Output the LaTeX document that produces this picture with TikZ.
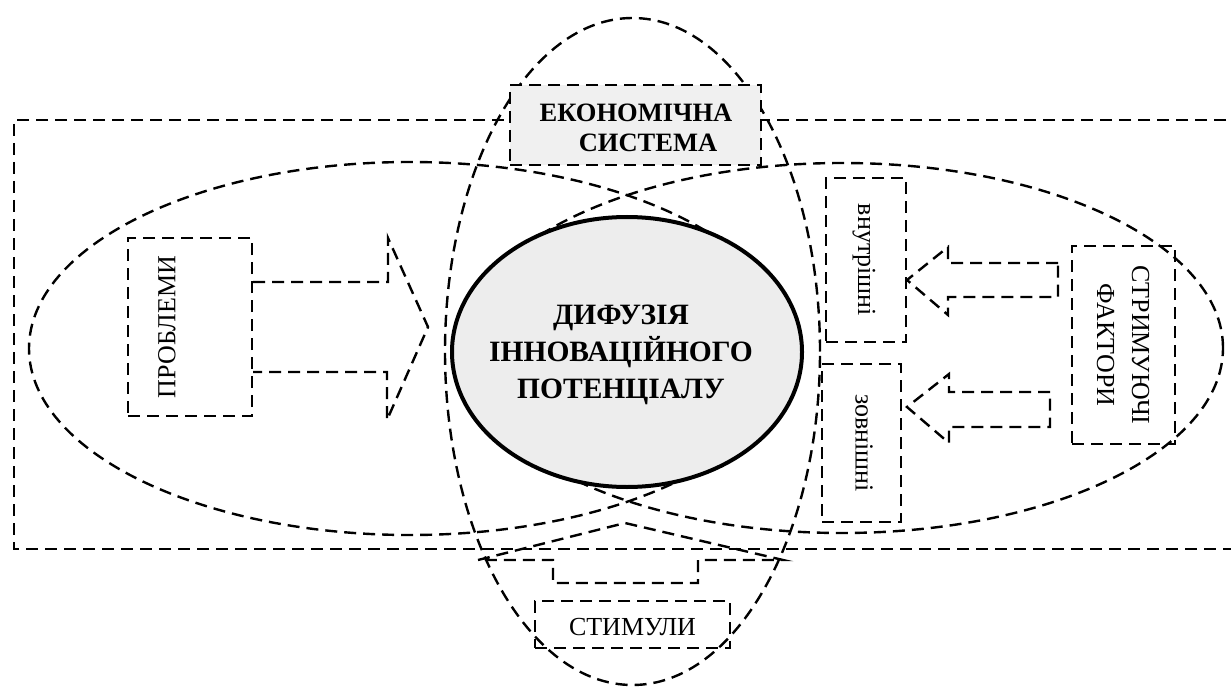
\documentclass[tikz,border=0pt]{standalone}
\usepackage{fontspec}
\setmainfont{Liberation Serif}
\usetikzlibrary{shapes.geometric}
\tikzset{
  dsh/.style={draw=black, line width=2.4pt, dash pattern=on 12pt off 7pt},
  boxd/.style={dsh, rectangle, inner sep=0pt},
  txt/.style={font=\fontsize{26}{30}\selectfont, inner sep=0pt, align=center},
  btxt/.style={font=\fontsize{26.5}{30}\selectfont\bfseries, inner sep=0pt, align=center},
}
\begin{document}
\begin{tikzpicture}[x=1pt,y=-1pt]
\useasboundingbox (0,0) rectangle (1231,687);
% outer rectangle
\draw[dsh] (1245,120) -- (14,120) -- (14,549) -- (1245,549);
% big ellipses
\draw[dsh] (632.5,351.5) ellipse [x radius=187.5pt, y radius=333.5pt];
\draw[dsh] (410,348.5) ellipse [x radius=381pt, y radius=186.5pt];
\draw[dsh] (842,348) ellipse [x radius=381pt, y radius=185pt];
% central ellipse
\node[ellipse, draw=black, line width=4pt, fill=black!7, minimum width=350pt, minimum height=270pt, inner sep=0pt] (dif) at (627,352) {};
\node[font=\fontsize{29.5}{37}\selectfont\bfseries, align=center, inner sep=0pt] (diftext) at (621,355) {ДИФУЗІЯ\\ІННОВАЦІЙНОГО\\ПОТЕНЦІАЛУ};
% economic system box
\node[boxd, fill=black!6, minimum width=251pt, minimum height=80pt] (econ) at (635.5,125) {};
\node[btxt] (econtext) at (636,128) {ЕКОНОМІЧНА\\\hspace{24pt}СИСТЕМА};
% problems
\node[boxd, minimum width=124pt, minimum height=178pt] (prob) at (190,327) {};
\node[txt, rotate=90] (probtext) at (167,327) {ПРОБЛЕМИ};
\draw[dsh] (prob.east |- 0,282) -- (388,282) -- (388,238) -- (428,327) -- (387,420) -- (387,372) -- (prob.east |- 0,372);
% internal / external
\node[boxd, minimum width=80pt, minimum height=164pt] (vnutr) at (866,260) {};
\node[txt, rotate=-90] (vnutrtext) at (864,260) {внутрішні};
\node[boxd, minimum width=79pt, minimum height=158pt] (zovn) at (861.5,443) {};
\node[txt, rotate=-90] (zovntext) at (864,443) {зовнішні};
% factors
\node[boxd, minimum width=103pt, minimum height=198pt] (fact) at (1123.5,345) {};
\node[txt, rotate=-90, font=\fontsize{26}{35}\selectfont] (facttext) at (1123,345) {СТРИМУЮЧІ\\ФАКТОРИ};
% arrows from factors
\draw[dsh] (1058,263) -- (948,263) -- (948,247) -- (907,280) -- (948,315) -- (948,297) -- (1058,297) -- cycle;
\draw[dsh] (1050,392) -- (949,392) -- (949,374) -- (907,407) -- (949,443) -- (949,427) -- (1050,427) -- cycle;
% stimuli arrow
\draw[dsh] (478,560) -- (625,523) -- (783,560) -- (698,560) -- (698,583) -- (553,583) -- (553,560) -- cycle;
% stimuli box
\node[boxd, minimum width=195pt, minimum height=47pt] (stim) at (632.5,624.5) {};
\node[txt] (stimtext) at (632.5,627) {СТИМУЛИ};
\end{tikzpicture}
\end{document}
